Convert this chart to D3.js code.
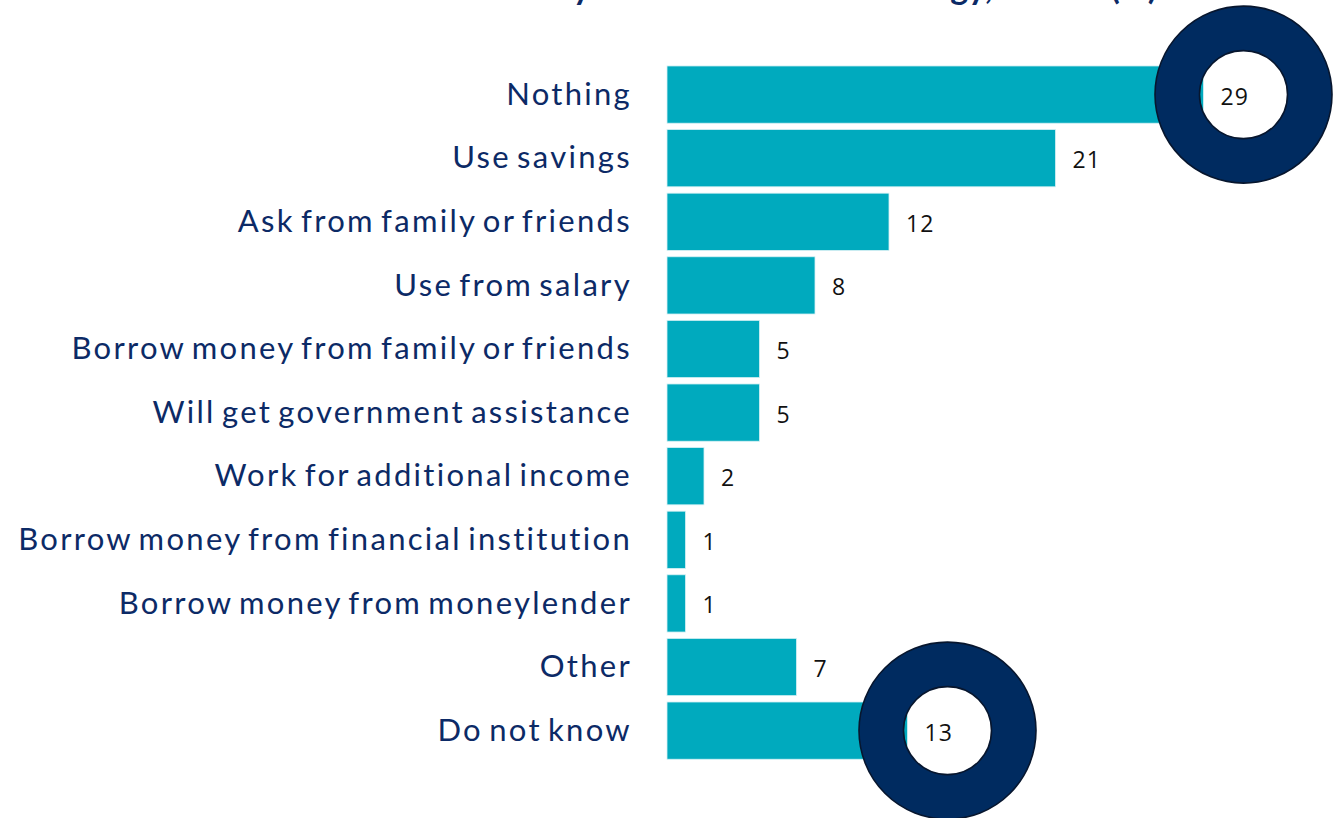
<!DOCTYPE html>
<html>
<head>
<meta charset="utf-8">
<script src="https://cdn.jsdelivr.net/npm/d3@7/dist/d3.min.js"></script>
<style>
  html, body { margin: 0; padding: 0; background: #ffffff; }
  svg { display: block; }
</style>
</head>
<body>
<svg id="chart" width="1342" height="818"></svg>
<script>
// Responses, share of respondents (%)
const categories = [
  "Nothing",
  "Use savings",
  "Ask from family or friends",
  "Use from salary",
  "Borrow money from family or friends",
  "Will get government assistance",
  "Work for additional income",
  "Borrow money from financial institution",
  "Borrow money from moneylender",
  "Other",
  "Do not know"
];
const values = [29, 21, 12, 8, 5, 5, 2, 1, 1, 7, 13];
// Answers emphasised with a ring around their value
const highlighted = ["Nothing", "Do not know"];
const titleText = "Main action if short of money to meet the cost: strategy, overall (%)";

const data = categories.map((c, i) => ({ category: c, value: values[i] }));

const svg = d3.select("#chart");

const TEAL = "#00aabe";
const NAVY = "#0c2a66";
const RING = "#002b60";

const x = d3.scaleLinear().domain([0, 30]).range([667, 1222]);
const y = d3.scaleBand().domain(categories).range([59.6, 765.6]).padding(0.1);

// Title (runs off the top edge; only its lowest strokes are in view)
svg.append("text")
  .attr("x", 1157)
  .attr("y", -1)
  .attr("text-anchor", "end")
  .attr("font-family", "Lato, 'Open Sans', sans-serif")
  .attr("font-weight", 700)
  .attr("font-size", 34)
  .attr("fill", NAVY)
  .text(titleText);

// Bars
svg.append("g").selectAll("rect")
  .data(data)
  .join("rect")
  .attr("x", x(0))
  .attr("y", d => y(d.category))
  .attr("width", d => x(d.value) - x(0))
  .attr("height", y.bandwidth())
  .attr("fill", TEAL)
  .attr("stroke", "#d6f1f4")
  .attr("stroke-width", 0.8);

// Category labels
svg.append("g").selectAll("text")
  .data(data)
  .join("text")
  .attr("x", 632)
  .attr("y", d => y(d.category) + y.bandwidth() / 2)
  .attr("dy", "0.33em")
  .attr("text-anchor", "end")
  .attr("font-family", "Lato, 'Open Sans', sans-serif")
  .attr("font-size", 31)
  .attr("letter-spacing", 2.3)
  .attr("word-spacing", -4)
  .attr("fill", NAVY)
  .text(d => d.category);

// Rings around highlighted values
const ringArc = d3.arc().innerRadius(44).outerRadius(88.5).startAngle(0).endAngle(2 * Math.PI);
const hl = data.filter(d => highlighted.includes(d.category));
svg.append("g").selectAll("path")
  .data(hl)
  .join("path")
  .attr("transform", d => `translate(${x(d.value) + 40},${y(d.category) + y.bandwidth() / 2})`)
  .attr("d", ringArc)
  .attr("fill", RING)
  .attr("stroke", "#07162e")
  .attr("stroke-width", 1.6);

// Value labels
svg.append("g").selectAll("text")
  .data(data)
  .join("text")
  .attr("x", d => x(d.value) + 17)
  .attr("y", d => y(d.category) + y.bandwidth() / 2 + 2)
  .attr("dy", "0.35em")
  .attr("text-anchor", "start")
  .attr("font-family", "'Open Sans', 'Noto Sans', sans-serif")
  .attr("font-size", 23)
  .attr("letter-spacing", 1)
  .attr("fill", "#111111")
  .text(d => d.value);
</script>
</body>
</html>
